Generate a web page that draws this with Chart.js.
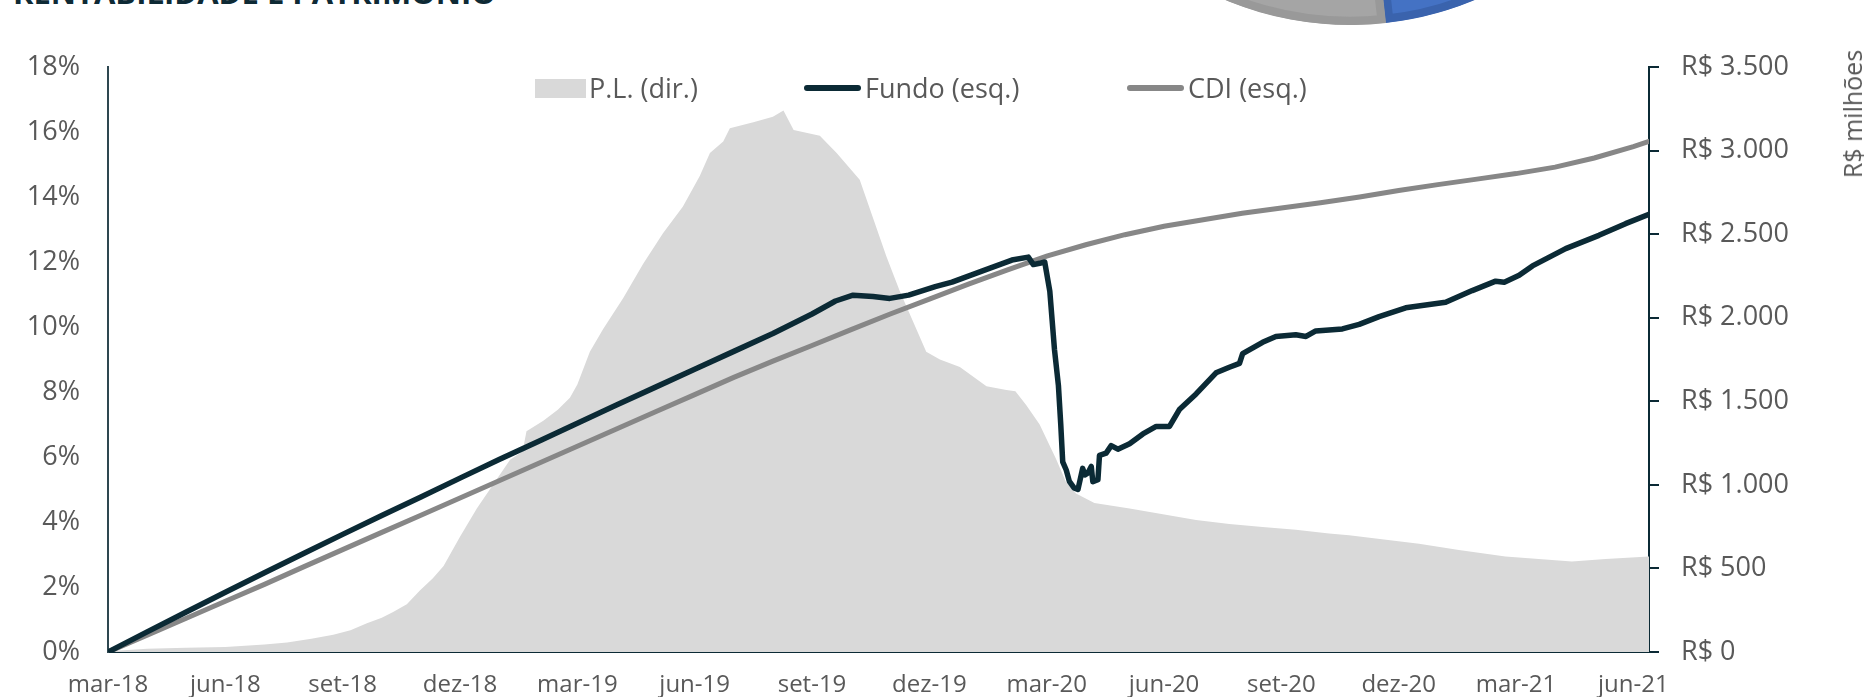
<!DOCTYPE html>
<html><head><meta charset="utf-8">
<script src="https://cdn.jsdelivr.net/npm/chart.js@4.4.1/dist/chart.umd.min.js"></script>
<style>
html,body{margin:0;padding:0;background:#fff;}
#wrap{position:relative;width:1876px;height:697px;overflow:hidden;font-family:"Open Sans",sans-serif;color:#595959;}
#main{position:absolute;left:0;top:0;}
#pie{position:absolute;left:1025px;top:-625px;}
.title{position:absolute;left:13px;top:-23px;font-weight:700;font-size:31px;line-height:31px;color:#0e2a35;white-space:nowrap;}
.lg{position:absolute;font-size:27px;line-height:32px;top:72px;white-space:nowrap;}
.sw{position:absolute;}
.axt{position:absolute;font-size:25px;line-height:30px;white-space:nowrap;left:1852px;top:114px;transform:translate(-50%,-50%) rotate(-90deg);}
</style></head>
<body>
<div id="wrap">
  <div class="title">RENTABILIDADE E PATRIMÔNIO</div>
  <canvas id="pie" width="650" height="650"></canvas>
  <canvas id="main" width="1876" height="697"></canvas>
  <div class="sw" style="left:535px;top:79px;width:51px;height:19px;background:#d9d9d9"></div>
  <div class="lg" style="left:589px">P.L. (dir.)</div>
  <div class="sw" style="left:804px;top:85px;width:57px;height:6px;border-radius:3px;background:#0b2a35"></div>
  <div class="lg" style="left:865px">Fundo (esq.)</div>
  <div class="sw" style="left:1127px;top:85px;width:57px;height:6px;border-radius:3px;background:#878787"></div>
  <div class="lg" style="left:1188px">CDI (esq.)</div>
  <div class="axt">R$ milhões</div>
</div>
<script>
// ---- data (x = months since mar-18) ----
const xTickMonths = [0,3,6,9,12,15,18,21,24,27,30,33,36,39];
const xTickLabels = ['mar-18','jun-18','set-18','dez-18','mar-19','jun-19','set-19','dez-19','mar-20','jun-20','set-20','dez-20','mar-21','jun-21'];

const cdiMonths = [0,1,2,3,4,5,6,7,8,9,10,11,12,13,14,15,16,17,18,19,20,21,22,23,24,25,26,27,28,29,30,31,32,33,34,35,36,37,38,39,39.4];
const cdiValues = [0,0.52,1.04,1.56,2.08,2.62,3.15,3.68,4.21,4.74,5.27,5.80,6.33,6.86,7.39,7.92,8.45,8.95,9.43,9.92,10.40,10.86,11.32,11.76,12.18,12.53,12.84,13.10,13.30,13.50,13.66,13.82,14.00,14.20,14.38,14.55,14.72,14.92,15.20,15.55,15.71];

const fundoMonths = [0,1,2,3,4,5,6,7,8,9,10,11,12,13,14,15,16,17,18,18.6,19.05,19.56,19.99,20.47,21.15,21.58,22.43,23.11,23.53,23.66,23.82,23.95,24.08,24.2,24.3,24.36,24.41,24.5,24.58,24.7,24.8,24.92,24.98,25.05,25.14,25.18,25.31,25.35,25.52,25.65,25.82,26.12,26.46,26.8,27.14,27.4,27.82,28.33,28.67,28.93,29.01,29.52,29.86,30.37,30.63,30.88,31.56,31.99,32.5,33.18,34.2,34.88,35.48,35.7,36.08,36.42,37.27,38.12,38.8,39.4];
const fundoValues = [0,0.62,1.23,1.84,2.44,3.03,3.62,4.2,4.77,5.35,5.92,6.48,7.04,7.6,8.15,8.7,9.25,9.8,10.4,10.8,10.98,10.94,10.88,10.98,11.24,11.38,11.76,12.06,12.15,11.92,11.96,12.0,11.1,9.3,8.2,7.0,5.85,5.6,5.25,5.05,5.0,5.65,5.45,5.5,5.71,5.24,5.3,6.05,6.12,6.35,6.24,6.41,6.71,6.94,6.94,7.47,7.94,8.59,8.76,8.88,9.18,9.53,9.71,9.76,9.71,9.88,9.94,10.08,10.32,10.59,10.76,11.12,11.41,11.38,11.59,11.88,12.41,12.82,13.18,13.47];

const plMonths = [0,1,2,3,4,4.58,5.2,5.76,6.2,6.62,7.0,7.29,7.64,7.98,8.3,8.58,9.0,9.43,9.9,10.28,10.6,10.7,11.13,11.5,11.81,12.0,12.32,12.66,13.17,13.68,14.19,14.7,15.13,15.39,15.73,15.9,16.5,17.0,17.27,17.53,18.2,18.63,19.22,19.56,19.9,20.24,20.58,20.92,21.27,21.78,22.46,22.97,23.2,23.48,23.82,24.24,24.49,24.75,25.22,26.12,26.97,27.82,28.67,29.52,30.37,31.22,31.73,33.52,34.54,35.73,37.43,38.29,39.4];
const plValues = [5,20,25,30,45,57,80,103,130,172,205,240,286,370,440,515,690,858,1020,1150,1200,1320,1384,1450,1521,1600,1796,1933,2116,2322,2505,2665,2848,2985,3054,3134,3169,3203,3240,3123,3088,2985,2825,2596,2368,2162,1979,1796,1750,1705,1590,1567,1560,1476,1361,1155,1018,949,892,858,824,789,766,748,732,709,698,647,611,572,542,556,572];

const pieLabels = ['Azul','Cinza'];
const pieValues = [30,70];

// ---- build ----
const zip = (xs, ys) => xs.map((x,i) => ({x, y: ys[i]}));
const FONT = '"Open Sans", sans-serif';
const GRAY = '#595959';
const DARK = '#0b2a35';

new Chart(document.getElementById('main'), {
  type: 'line',
  data: {
    datasets: [
      { label: 'Fundo (esq.)', data: zip(fundoMonths, fundoValues), yAxisID: 'y', borderColor: DARK, borderWidth: 5.5, pointRadius: 0, tension: 0, fill: false, order: 1, borderJoinStyle: 'round', borderCapStyle: 'round' },
      { label: 'CDI (esq.)', data: zip(cdiMonths, cdiValues), yAxisID: 'y', borderColor: '#878787', borderWidth: 5, pointRadius: 0, tension: 0, fill: false, order: 2, borderCapStyle: 'round' },
      { label: 'P.L. (dir.)', data: zip(plMonths, plValues), yAxisID: 'y1', borderWidth: 0, borderColor: 'rgba(0,0,0,0)', backgroundColor: '#d9d9d9', pointRadius: 0, tension: 0, fill: 'origin', order: 3 }
    ]
  },
  options: {
    responsive: false, animation: false, devicePixelRatio: 1,
    layout: { padding: { top: 67, left: 0, right: 0, bottom: 0 } },
    plugins: { legend: { display: false }, tooltip: { enabled: false } },
    scales: {
      x: {
        type: 'linear', min: 0, max: 39.4,
        afterBuildTicks: s => { s.ticks = xTickMonths.map(v => ({ value: v })); },
        afterFit: s => { s.height = 45; },
        grid: { display: false, drawTicks: false },
        border: { display: true, color: DARK, width: 2 },
        ticks: { autoSkip: false, maxRotation: 0, padding: 19, color: GRAY, font: { family: FONT, size: 24 },
          callback: v => xTickLabels[xTickMonths.indexOf(v)] }
      },
      y: {
        position: 'left', min: 0, max: 18,
        afterFit: s => { s.width = 108; },
        grid: { display: false, drawTicks: false },
        border: { display: true, color: '#2e4750', width: 2 },
        ticks: { stepSize: 2, padding: 28, color: GRAY, font: { family: FONT, size: 27 }, callback: v => v + '%' }
      },
      y1: {
        position: 'right', min: 0, max: 3500,
        afterFit: s => { s.width = 227; },
        grid: { display: true, drawOnChartArea: false, drawTicks: true, tickLength: 10, color: DARK, lineWidth: 2 },
        border: { display: true, color: DARK, width: 2 },
        ticks: { stepSize: 500, padding: 22, color: GRAY, font: { family: FONT, size: 27 },
          callback: v => 'R$ ' + String(v).replace(/\B(?=(\d{3})+(?!\d))/g, '.') }
      }
    }
  }
});

new Chart(document.getElementById('pie'), {
  type: 'pie',
  data: { labels: pieLabels, datasets: [{ data: pieValues, backgroundColor: ['#4472c4', '#a5a5a5'], borderColor: ['#3a63ad', '#999999'], borderWidth: 8, borderAlign: 'inner' }] },
  options: { responsive: false, animation: false, devicePixelRatio: 1, rotation: 65.7,
    plugins: { legend: { display: false }, tooltip: { enabled: false } }, layout: { padding: 0 } }
});
</script>
</body></html>
